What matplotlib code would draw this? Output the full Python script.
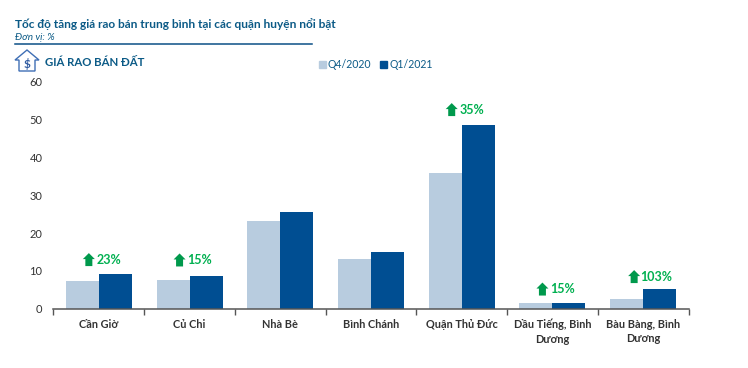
import matplotlib
matplotlib.use('Agg')
import matplotlib.pyplot as plt
import numpy as np
from matplotlib.patches import Polygon

plt.rcParams['font.family'] = ['Lato', 'Noto Sans', 'DejaVu Sans']

categories = ['Cần Giờ', 'Củ Chi', 'Nhà Bè', 'Bình Chánh', 'Quận Thủ Đức',
              'Dầu Tiếng, Bình\nDương', 'Bàu Bàng, Bình\nDương']
q4_2020 = [7.4, 7.7, 23.2, 13.2, 36.0, 1.5, 2.5]
q1_2021 = [9.1, 8.7, 25.7, 15.0, 48.7, 1.6, 5.1]
growth_labels = ['23%', '15%', None, None, '35%', '15%', '103%']
growth_heights = [13.0, 12.9, None, None, 52.7, 5.2, 8.5]
yticks = [0, 10, 20, 30, 40, 50, 60]

LIGHT = '#b8ccdf'
DARK = '#004e92'
TITLE = '#0b5a86'
GREEN = '#00b050'
ARROW = '#00994c'
W, H = 748, 368

fig = plt.figure(figsize=(W/100, H/100), dpi=100, facecolor='white')
ax = fig.add_axes([53.5/W, 1-308.7/H, (688.5-53.5)/W, (308.7-82)/H])

x = np.arange(len(categories)) + 0.5
bw = 0.364
ax.bar(x-bw/2, q4_2020, bw, color=LIGHT, label='Q4/2020')
ax.bar(x+bw/2, q1_2021, bw, color=DARK, label='Q1/2021')
ax.set_xlim(0, len(categories))
ax.set_ylim(0, 60)
ax.set_yticks(yticks)
ax.tick_params(axis='y', length=0, labelsize=8, labelcolor='#333333', pad=8)
ax.set_xticks(np.arange(len(categories)+1))
ax.set_xticklabels([])
ax.tick_params(axis='x', length=4, width=1, color='#555555', direction='out')
ax.set_xticks(x, minor=True)
ax.set_xticklabels(categories, minor=True, fontsize=7.9, fontweight='bold',
                   color='#333333', linespacing=1.4, va='top')
ax.tick_params(axis='x', which='minor', length=0, pad=7.3)
for s in ['top', 'left', 'right']:
    ax.spines[s].set_visible(False)
ax.spines['bottom'].set_color('#555555')
ax.spines['bottom'].set_linewidth(1.1)

# overlay in pixel coordinates for the decorations
ov = fig.add_axes([0, 0, 1, 1], facecolor='none')
ov.set_xlim(0, W)
ov.set_ylim(H, 0)
ov.axis('off')

ov.text(15, 24.5, 'Tốc độ tăng giá rao bán trung bình tại các quận huyện nổi bật',
        fontsize=8.6, fontweight='bold', color=TITLE, va='center', ha='left')
ov.text(15, 37, 'Đơn vị: %', fontsize=7.2, style='italic', color=TITLE, va='center', ha='left')
ov.plot([15, 312], [44, 44], color='#0b4f86', lw=1.1)
ov.text(45, 62, 'GIÁ RAO BÁN ĐẤT', fontsize=8.2, fontweight='bold', color=TITLE, va='center', ha='left')

# house icon
ic = '#3f6fb5'
ov.add_patch(Polygon([(15, 60), (27, 50), (39, 60), (35, 60), (35, 71), (19, 71), (19, 60)],
                     closed=True, fill=False, ec=ic, lw=1.0))
ov.text(27, 64.5, '$', fontsize=8.5, fontweight='bold', color='#2f5aa0', ha='center', va='center')

# legend
ov.add_patch(plt.Rectangle((319, 61), 7, 7, color=LIGHT))
ov.text(328, 65, 'Q4/2020', fontsize=7.6, color=TITLE, va='center', ha='left')
ov.add_patch(plt.Rectangle((380, 61), 7, 7, color=DARK))
ov.text(390, 65, 'Q1/2021', fontsize=7.6, color=TITLE, va='center', ha='left')

# growth annotations
for c, lab, h in zip(x, growth_labels, growth_heights):
    if lab is None:
        continue
    dx, dy = ov.transData.inverted().transform(ax.transData.transform((c, h)))
    left = dx - 13.5 if len(lab) == 3 else dx - 12.5
    ov.add_patch(Polygon([(left, dy+6.5), (left, dy-0.5), (left-2.5, dy-0.5),
                          (left+3.5, dy-6.5), (left+9.5, dy-0.5), (left+7, dy-0.5),
                          (left+7, dy+6.5)], closed=True, color=ARROW, lw=0))
    ov.text(left+(11 if len(lab) == 3 else 9.5), dy, lab, fontsize=9, fontweight='bold',
            color=GREEN, va='center', ha='left')

fig.savefig('out.png', dpi=100)
